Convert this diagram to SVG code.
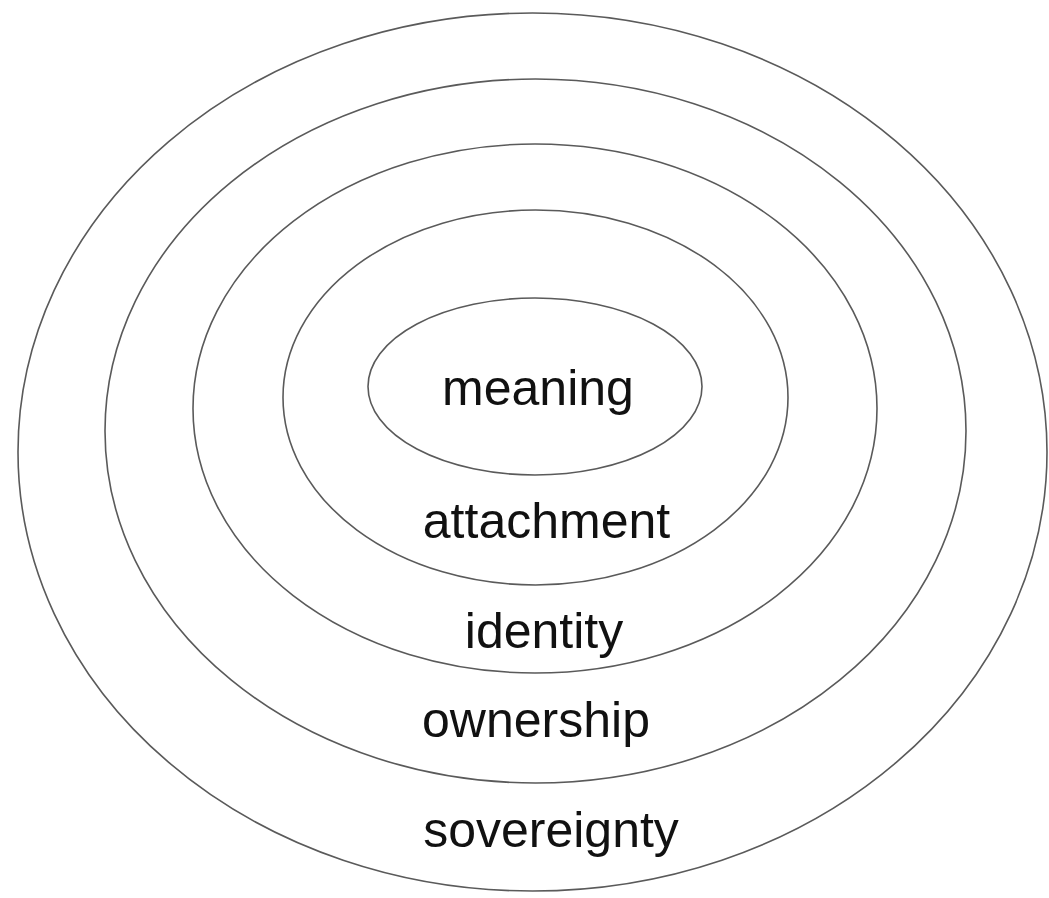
<svg xmlns="http://www.w3.org/2000/svg" width="1049" height="898" viewBox="0 0 1049 898">
<style>
.ring{fill:none;stroke:#5a5a5a;stroke-width:1.6}
.lbl{font-family:"Liberation Sans",Arial,sans-serif;font-size:50px;fill:#111;text-anchor:middle}
</style>
<rect width="1049" height="898" fill="#fff"/>
<g id="sovereignty"><ellipse class="ring" cx="532.5" cy="452" rx="514.5" ry="439"/><text class="lbl" x="551" y="847">sovereignty</text></g>
<g id="ownership"><ellipse class="ring" cx="535.5" cy="431" rx="430.5" ry="352"/><text class="lbl" x="536" y="737">ownership</text></g>
<g id="identity"><ellipse class="ring" cx="535" cy="408.5" rx="342" ry="264.5"/><text class="lbl" x="544" y="648">identity</text></g>
<g id="attachment"><ellipse class="ring" cx="535.5" cy="397.5" rx="252.5" ry="187.5"/><text class="lbl" x="546.5" y="538">attachment</text></g>
<g id="meaning"><ellipse class="ring" cx="535" cy="386.5" rx="167" ry="88.5"/><text class="lbl" x="538" y="405">meaning</text></g>
<g id="connectors"/>
</svg>
